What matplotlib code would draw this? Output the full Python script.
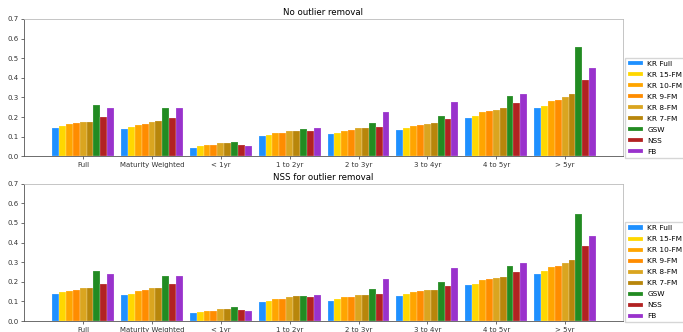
import numpy as np
import matplotlib
matplotlib.use("Agg")
import matplotlib.pyplot as plt

groups = ["Full", "Maturity Weighted", "< 1yr", "1 to 2yr", "2 to 3yr",
          "3 to 4yr", "4 to 5yr", "> 5yr"]
models = ["KR Full", "KR 15-FM", "KR 10-FM", "KR 9-FM", "KR 8-FM",
          "KR 7-FM", "GSW", "NSS", "FB"]
colors = ["#1E90FF", "#FFD700", "#FFA500", "#FF8C00", "#DAA520",
          "#B8860B", "#228B22", "#B22222", "#9932CC"]

# rows = models, columns = maturity buckets
no_removal = [
    [0.145, 0.138, 0.043, 0.102, 0.113, 0.133, 0.196, 0.244],  # KR Full
    [0.154, 0.148, 0.051, 0.108, 0.121, 0.145, 0.206, 0.258],  # KR 15-FM
    [0.164, 0.159, 0.055, 0.119, 0.130, 0.155, 0.224, 0.282],  # KR 10-FM
    [0.167, 0.164, 0.056, 0.119, 0.133, 0.159, 0.230, 0.288],  # KR 9-FM
    [0.174, 0.174, 0.065, 0.128, 0.145, 0.164, 0.235, 0.302],  # KR 8-FM
    [0.177, 0.179, 0.065, 0.131, 0.145, 0.167, 0.244, 0.316],  # KR 7-FM
    [0.261, 0.244, 0.075, 0.138, 0.172, 0.203, 0.309, 0.555],  # GSW
    [0.200, 0.196, 0.056, 0.131, 0.147, 0.189, 0.271, 0.387],  # NSS
    [0.247, 0.244, 0.051, 0.142, 0.224, 0.276, 0.319, 0.449],  # FB
]
nss_removal = [
    [0.140, 0.131, 0.041, 0.097, 0.102, 0.128, 0.183, 0.239],
    [0.148, 0.140, 0.046, 0.102, 0.113, 0.138, 0.191, 0.254],
    [0.155, 0.154, 0.051, 0.111, 0.121, 0.148, 0.208, 0.275],
    [0.159, 0.157, 0.051, 0.114, 0.125, 0.152, 0.213, 0.282],
    [0.167, 0.166, 0.060, 0.123, 0.131, 0.157, 0.220, 0.295],
    [0.169, 0.169, 0.063, 0.126, 0.131, 0.157, 0.224, 0.311],
    [0.254, 0.232, 0.073, 0.130, 0.162, 0.198, 0.282, 0.546],
    [0.188, 0.188, 0.056, 0.123, 0.137, 0.179, 0.249, 0.382],
    [0.239, 0.232, 0.049, 0.133, 0.213, 0.270, 0.297, 0.435],
]

plt.rcParams["font.size"] = 5


def draw_panel(ax, values, title):
    x = np.arange(len(groups))
    width = 0.1
    for i, (name, vals) in enumerate(zip(models, values)):
        offset = (i - (len(models) - 1) / 2) * width
        ax.bar(x + offset, vals, width, color=colors[i], label=name,
               edgecolor=(1, 1, 1, 0.5), linewidth=0.3)
    ax.set_xticks(x)
    ax.set_xticklabels(groups)
    ax.set_xlim(-0.86, 7.84)
    ax.set_ylim(0, 0.7)
    ax.set_yticks(np.arange(0, 0.71, 0.1))
    ax.yaxis.set_major_formatter(plt.FormatStrFormatter("%.1f"))
    ax.set_title(title, fontsize=6.2, pad=3)
    for side in ["top", "right"]:
        ax.spines[side].set_color("#bbbbbb")
    for side in ["left", "bottom"]:
        ax.spines[side].set_color("#555555")
    for sp in ax.spines.values():
        sp.set_linewidth(0.6)
    ax.tick_params(length=2, width=0.5, pad=2, colors="#333333")
    ax.legend(loc="lower left", bbox_to_anchor=(1.004, -0.01), fontsize=5.3,
              handlelength=2.0, handleheight=0.6, borderaxespad=0.0,
              handletextpad=0.6, labelspacing=0.68, frameon=True,
              fancybox=False, edgecolor="#cccccc")


fig, axes = plt.subplots(2, 1, figsize=(6.83, 3.32), dpi=100)
draw_panel(axes[0], no_removal, "No outlier removal")
draw_panel(axes[1], nss_removal, "NSS for outlier removal")
fig.subplots_adjust(left=0.035, right=0.912, top=0.943, bottom=0.033,
                    hspace=0.2)
fig.savefig("out.png", dpi=100)
